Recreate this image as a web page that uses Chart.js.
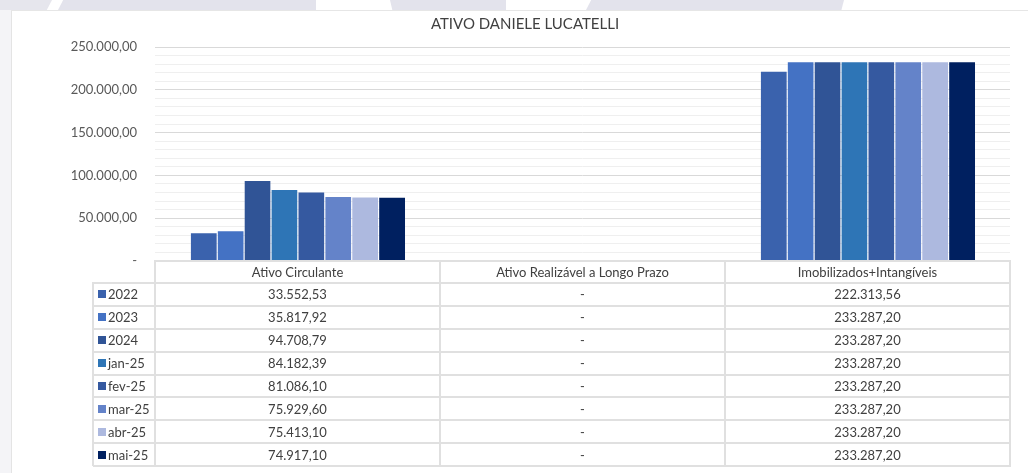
<!DOCTYPE html>
<html>
<head>
<meta charset="utf-8">
<script src="https://cdn.jsdelivr.net/npm/chart.js@4/dist/chart.umd.min.js"></script>
<style>
  html, body { margin: 0; padding: 0; background: #ffffff; }
  #wrap { position: relative; width: 1028px; height: 473px; overflow: hidden; font-family: Lato, "Noto Sans", sans-serif; background: #ffffff; }
  #bgTop { position: absolute; left: 0; top: 0; width: 1028px; height: 10px; background: #ffffff; }
  .band { position: absolute; top: 0; height: 10px; background: #e3e3ec; }
  #leftStrip { position: absolute; left: 0; top: 10px; width: 11px; height: 463px; background: #f4f4f7; border-right: 1px solid #e4e4e4; }
  #panelTop { position: absolute; left: 11px; top: 10px; width: 1017px; height: 1px; background: #e6e6e6; }
  #chartBox { position: absolute; left: 0; top: 0; width: 1028px; height: 473px; }
  .hl { position: absolute; height: 2px; background: #e0e0e0; }
  .vl { position: absolute; width: 2px; background: #e0e0e0; }
  .cell { position: absolute; display: flex; align-items: center; justify-content: center; font-size: 13px; color: #404040; white-space: nowrap; }
  .leg { position: absolute; display: flex; align-items: center; font-size: 13px; color: #404040; white-space: nowrap; }
  .sw { display: inline-block; width: 8px; height: 8px; margin-right: 2px; margin-left: 5px; }
</style>
</head>
<body>
<div id="wrap">
  <div id="bgTop">
    <div class="band" style="left:0;width:52px;background:#e6e6ed;clip-path:polygon(0 0,100% 0,90% 100%,0 100%);"></div>
    <div class="band" style="left:58px;width:258px;clip-path:polygon(2% 0,100% 0,100% 100%,0 100%);"></div>
    <div class="band" style="left:390px;width:116px;clip-path:polygon(0 0,100% 0,100% 100%,2% 100%);"></div>
    <div class="band" style="left:586px;width:258px;clip-path:polygon(2% 0,100% 0,99% 100%,0 100%);"></div>
  </div>
  <div id="leftStrip"></div>
  <div id="panelTop"></div>
  <div id="chartBox"><canvas id="c" width="1028" height="473"></canvas></div>
  <div id="table"></div>
</div>
<script>
// ---- Data ----
const categories = ['Ativo Circulante', 'Ativo Realizável a Longo Prazo', 'Imobilizados+Intangíveis'];
const seriesNames = ['2022', '2023', '2024', 'jan-25', 'fev-25', 'mar-25', 'abr-25', 'mai-25'];
const v2022  = [33552.53, 0, 222313.56];
const v2023  = [35817.92, 0, 233287.20];
const v2024  = [94708.79, 0, 233287.20];
const vJan25 = [84182.39, 0, 233287.20];
const vFev25 = [81086.10, 0, 233287.20];
const vMar25 = [75929.60, 0, 233287.20];
const vAbr25 = [75413.10, 0, 233287.20];
const vMai25 = [74917.10, 0, 233287.20];
const seriesValues = [v2022, v2023, v2024, vJan25, vFev25, vMar25, vAbr25, vMai25];
const seriesColors = ['#3a62ad', '#4472c4', '#305496', '#2e75b6', '#3559a0', '#6483c9', '#adb9df', '#002060'];
const yTickLabels = [0, 50000, 100000, 150000, 200000, 250000];

function fmtBR(v) {
  if (v === 0) return '-';
  const neg = v < 0; v = Math.abs(v);
  const fixed = v.toFixed(2);
  let [ip, dp] = fixed.split('.');
  ip = ip.replace(/\B(?=(\d{3})+(?!\d))/g, '.');
  return (neg ? '-' : '') + ip + ',' + dp;
}

const datasets = seriesNames.map((name, i) => ({
  label: name,
  data: seriesValues[i],
  backgroundColor: seriesColors[i],
  borderColor: 'rgba(255,255,255,0.22)',
  borderWidth: ctx => (ctx.raw ? { left: 1, top: 1, right: 0, bottom: 0 } : 0),
  borderSkipped: 'start',
  categoryPercentage: 0.755,
  barPercentage: 1.0
}));

const chart = new Chart(document.getElementById('c'), {
  type: 'bar',
  data: { labels: categories, datasets },
  options: {
    responsive: false,
    animation: false,
    layout: { padding: { left: 40, right: 18, top: 10, bottom: 212 } },
    plugins: {
      legend: { display: false },
      tooltip: { enabled: false },
      title: {
        display: true,
        text: 'ATIVO DANIELE LUCATELLI',
        color: '#404040',
        font: { family: 'Lato', size: 15, weight: 'normal' },
        padding: { top: 5, bottom: 14 }
      }
    },
    scales: {
      x: { display: false },
      y: {
        min: 0, max: 250000,
        border: { display: false },
        grid: {
          drawTicks: false,
          color: ctx => (yTickLabels.includes(ctx.tick.value) ? '#d9d9d9' : '#efefef'),
          lineWidth: 1
        },
        afterBuildTicks: s => {
          const t = [];
          for (let v = 0; v <= 250000; v += 10000) t.push({ value: v });
          s.ticks = t;
        },
        afterFit: s => { s.width = 155 - 40; },
        ticks: {
          autoSkip: false,
          padding: 18,
          color: '#595959',
          font: { family: 'Lato', size: 13 },
          callback: v => (yTickLabels.includes(v) ? fmtBR(v) : '')
        }
      }
    }
  }
});

// ---- Data table drawn from the chart's scale ----
(function buildTable() {
  const area = chart.chartArea;
  const xs = chart.scales.x;
  const left = area.left, right = area.right;
  const cw = (right - left) / categories.length;
  const top = Math.round(area.bottom);
  const headerH = 22;
  const rowH = 22.875;
  const legLeft = 93;
  const tbl = document.getElementById('table');
  const add = (cls, css, html) => {
    const d = document.createElement('div');
    d.className = cls;
    Object.assign(d.style, css);
    if (html !== undefined) d.textContent = html;
    tbl.appendChild(d);
    return d;
  };
  const nRows = seriesNames.length;
  const bottom = top + headerH + rowH * nRows;
  add('hl', { left: left + 'px', top: (top - 1) + 'px', width: (right - left + 1) + 'px' });
  for (let r = 0; r <= nRows; r++) {
    const y = Math.round(top + headerH + rowH * r) - 1;
    add('hl', { left: legLeft + 'px', top: y + 'px', width: (right - legLeft + 1) + 'px' });
  }
  add('vl', { left: (legLeft - 1) + 'px', top: (top + headerH - 1) + 'px', height: (bottom - top - headerH + 1) + 'px' });
  for (let c = 0; c <= categories.length; c++) {
    const x = Math.round(left + cw * c) - 1;
    add('vl', { left: x + 'px', top: (top - 1) + 'px', height: (bottom - top + 1) + 'px' });
  }
  categories.forEach((cat, c) => {
    const cx = xs.getPixelForValue(c);
    add('cell', { left: (cx - cw / 2) + 'px', top: top + 'px', width: cw + 'px', height: headerH + 'px' }, cat);
  });
  seriesNames.forEach((name, r) => {
    const y = top + headerH + rowH * r;
    const leg = add('leg', { left: legLeft + 'px', top: y + 'px', width: (left - legLeft) + 'px', height: rowH + 'px' });
    const sw = document.createElement('span');
    sw.className = 'sw';
    sw.style.background = seriesColors[r];
    leg.appendChild(sw);
    leg.appendChild(document.createTextNode(name));
    seriesValues[r].forEach((v, c) => {
      const cx = xs.getPixelForValue(c);
      add('cell', { left: (cx - cw / 2) + 'px', top: y + 'px', width: cw + 'px', height: rowH + 'px' }, fmtBR(v));
    });
  });
})();
</script>
</body>
</html>
